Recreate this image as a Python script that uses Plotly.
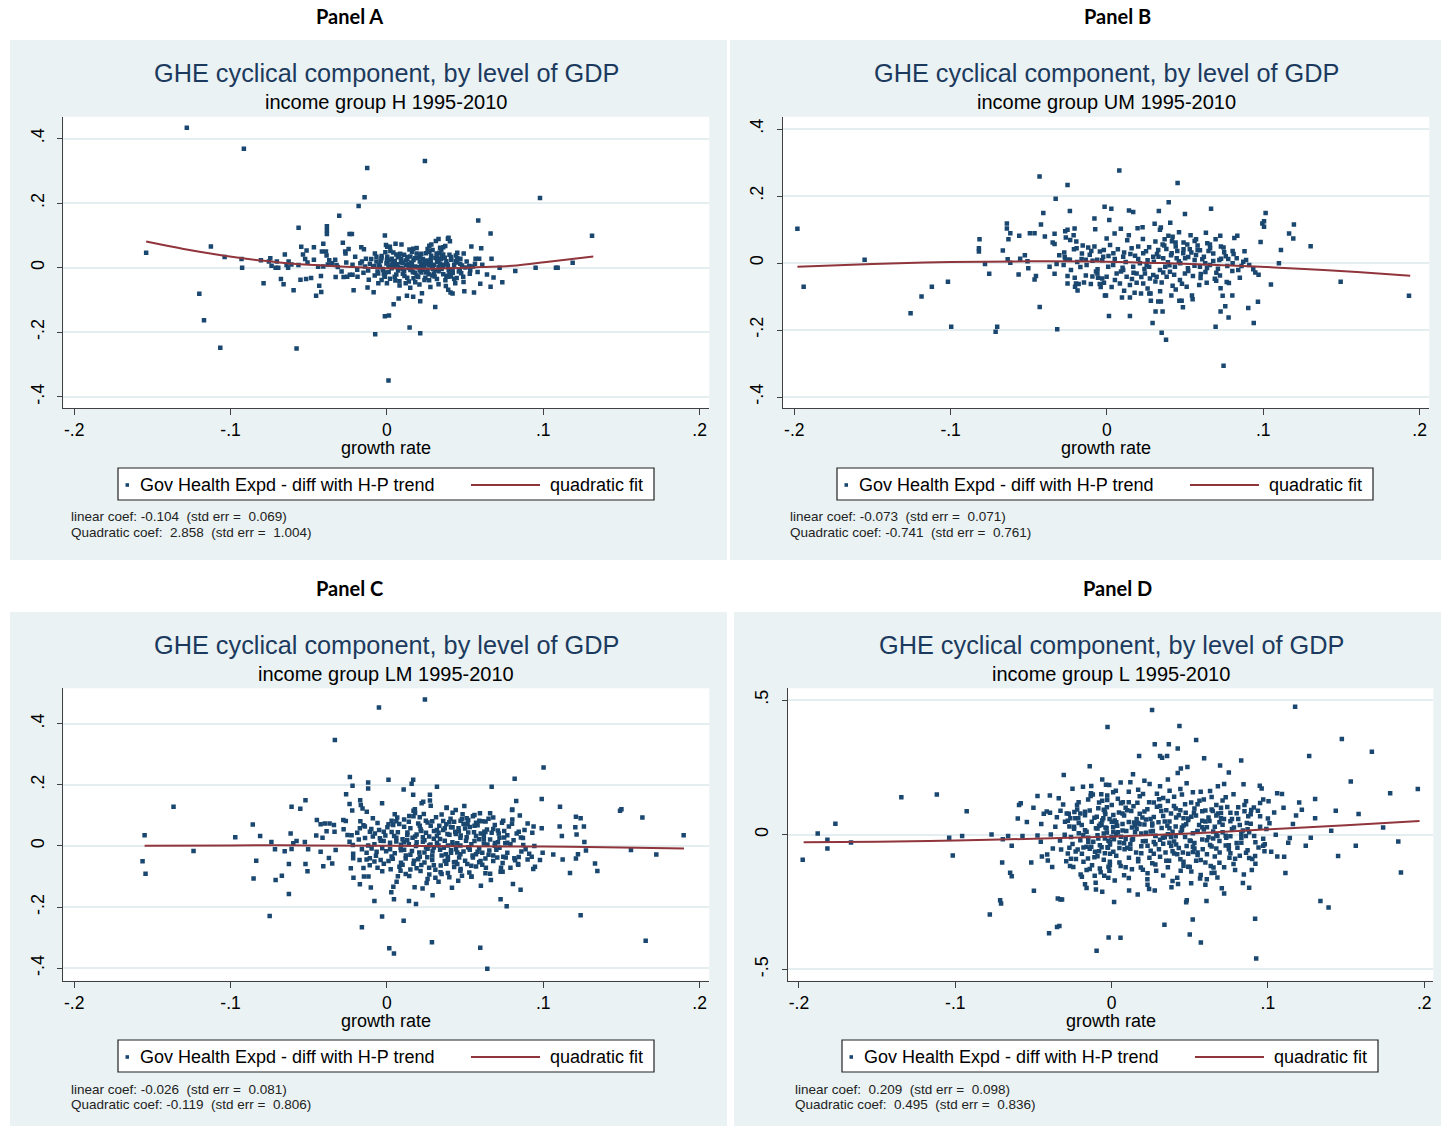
import plotly.graph_objects as go

W, H = 1441, 1126
def PX(x): return x / W
def PY(y): return 1 - y / H

NAVY = "#1a476f"
MAROON = "#90353b"
BG = "#eaf2f3"
GRID = "#e4edf0"
AXIS = "#404040"
FONT = "Liberation Sans, Arial, sans-serif"

# ---------------- data (growth rate, GHE cyclical component) ----------------
panel_a_points = [
    (-0.128,0.433),(-0.0915,0.368),(-0.0126,0.309),(-0.0143,0.218),(-0.0181,0.191),(-0.0305,0.161),
    (-0.0565,0.124),(-0.0384,0.128),(-0.0384,0.116),(-0.0384,0.104),(-0.0239,0.104),(-0.0224,0.104),
    (-0.154,0.046),(-0.1126,0.066),(-0.1038,0.033),(-0.093,0.027),(-0.0926,0.0),(-0.120,-0.081),
    (-0.117,-0.163),(-0.1066,-0.248),(-0.0578,-0.25),(0.001,-0.349),(-0.0075,-0.206),(-0.0013,-0.15),
    (0.0013,-0.148),(-0.0789,-0.048),(-0.0678,-0.035),(-0.0661,-0.051),(-0.0597,-0.070),(-0.0553,-0.037),
    (-0.0517,-0.035),(-0.0485,-0.032),(-0.0453,-0.087),(-0.042,-0.075),(-0.0433,-0.056),(-0.0422,-0.026),
    (-0.0328,-0.029),(-0.0277,-0.029),(-0.0213,-0.07),(-0.0124,-0.061),(-0.0085,-0.076),
    (-0.0806,0.023),(-0.0746,0.029),(-0.0755,0.019),(-0.0704,0.019),(-0.0738,0.006),(-0.0712,0.0),
    (-0.0695,0.0),(-0.0653,0.041),(-0.0629,0.019),(-0.0642,0.008),(-0.0632,0.0),(-0.0611,0.01),(-0.0566,0.008),
    (-0.0548,0.065),(-0.0537,0.041),(-0.0514,0.053),(-0.0523,0.027),(-0.0508,0.016),(-0.0467,0.063),
    (-0.0467,0.025),(-0.0416,0.05),(-0.039,0.05),(-0.0386,0.038),(-0.0407,0.074),(-0.0378,0.01),
    (-0.0407,0.004),(-0.0369,0.023),(-0.0331,0.025),(-0.0322,0.008),(-0.0314,0.002),(-0.0282,0.077),
    (-0.0267,0.05),(-0.0265,0.044),(-0.0245,0.058),(-0.0203,0.034),(-0.0164,0.063),(-0.016,0.019),
    (-0.0147,0.057),(-0.0134,0.028),(-0.0109,0.012),(-0.0088,0.003),(-0.0067,0.034),(-0.0013,0.1),(-0.0006,0.07),
    (-0.0237,-0.022),(-0.022,-0.022),(-0.0254,-0.028),(-0.0188,-0.028),(-0.015,-0.016),(-0.0116,-0.037),
    (-0.0078,-0.024),(-0.0055,-0.048),(-0.0034,-0.038),(0.0,-0.048),
    (0.0243,0.330),(0.0979,0.216),(0.0584,0.146),(0.0663,0.106),(0.1312,0.099),(0.0145,-0.185),
    (0.0213,-0.203),(0.0043,-0.113),(0.0075,-0.095),(0.0128,-0.087),(0.0168,-0.09),(0.0213,-0.104),
    (0.0224,-0.079),(0.0309,-0.122),(0.0377,-0.057),(0.0392,-0.068),(0.0407,-0.077),(0.042,-0.08),
    (0.0495,-0.073),(0.0557,-0.077),(0.0597,-0.05),(0.0663,-0.059),(0.0682,-0.03),(0.0738,-0.045),
    (0.0821,-0.01),(0.0951,0.0),(0.1081,0.0),(0.1092,0.0),(0.1188,0.015),(0.0721,0.0),(0.0567,0.028),
    (0.059,0.028),(0.0563,0.012),(0.0603,0.06),(0.054,0.066),(0.0491,0.044),(0.0669,0.028),
    (0.0271,0.068),(0.0284,0.072),(0.0313,0.083),(0.033,0.089),(0.036,0.063),(0.0373,0.067),
    (0.039,0.09),(0.0394,0.093),(0.0403,0.082),
    (0.0093,0.072),(0.0055,0.074),(0.0002,0.065),(0.0019,0.065),(-0.001,0.048),(0.0041,0.047),
    (0.0168,0.059),(0.016,0.049),(0.0292,0.055),(0.0271,0.052),(0.0318,0.044),(0.0348,0.055),
    (0.0441,0.038),(0.045,0.03),(0.0527,0.005),(0.0467,-0.007),(0.0488,-0.028),(0.0437,-0.048),(0.0446,-0.032),
    (-0.0034,0.036),(0.0004,0.017),(0.0031,0.028),(0.0065,0.011),(0.0091,0.026),(0.0129,0.033),
    (0.0155,0.016),(0.0193,0.031),(0.0219,0.012),(0.0257,0.022),(0.0283,0.037),(0.0321,0.018),
    (0.0347,0.027),(0.0385,0.011),(0.0411,0.025),
    (-0.0027,-0.004),(0.0011,-0.013),(0.0043,0.005),(0.0071,-0.009),(0.0102,-0.019),(0.0139,-0.001),
    (0.0166,-0.014),(0.0204,0.002),(0.0229,-0.006),(0.0267,-0.02),(0.0293,-0.003),(0.0331,-0.011),
    (0.0357,0.004),(0.0395,-0.008),(0.0421,-0.016),
    (-0.0016,-0.027),(0.0054,-0.04),(0.0112,-0.026),(0.0181,-0.045),(0.0246,-0.031),(0.0305,-0.027),
    (0.0374,-0.039),(0.0081,-0.055),(0.0149,-0.062),(0.0208,-0.052),(0.0278,-0.06),
    (0.0022,0.052),(0.0085,0.043),(0.0144,0.056),(0.0214,0.038),(0.0336,0.046),(0.0469,0.012),
    (0.0502,0.001),(0.0475,-0.017),(0.0533,-0.008),
    (-0.0067,0.019),(-0.0045,0.003),(-0.0024,-0.007),(-0.0003,0.013),(-0.0035,0.029),(-0.0056,-0.018),
    (-0.0013,-0.028),(-0.0077,0.044),(0.0002,0.034),
    (0.005,0.021),(0.012,0.008),(0.017,0.024),(0.024,0.006),(0.028,0.015),(0.033,0.002),(0.038,0.02),
    (0.003,-0.002),(0.009,0.0),(0.015,-0.007),(0.021,0.019),(0.027,0.007),(0.031,0.03),(0.036,-0.02),
    (0.043,0.009),(0.045,0.016),(0.04,0.04),(0.019,-0.024),(0.025,0.045),(0.011,0.04),(-0.005,0.008),
    (0.0,0.024),(0.014,0.012),(0.022,-0.015),(0.03,-0.018),(0.035,0.035),(0.041,-0.027),(0.007,0.032),
    (0.018,0.004),(0.026,-0.011),
    (-0.008,0.005),(-0.006,-0.012),(-0.004,0.021),(-0.002,-0.019),(0.001,0.004),(0.002,-0.034),(0.004,0.016),
    (0.006,-0.021),(0.008,0.038),(0.010,-0.003),(0.012,0.022),(0.013,-0.031),(0.015,0.035),(0.016,0.001),
    (0.018,-0.016),(0.019,0.044),(0.021,-0.009),(0.023,0.027),(0.024,-0.038),(0.026,0.013),(0.027,0.049),
    (0.029,-0.024),(0.030,0.009),(0.032,-0.035),(0.033,0.024),(0.035,-0.004),(0.036,0.041),(0.038,-0.025),
    (0.039,0.006),(0.041,0.033),(0.042,-0.005),(0.044,0.021),(0.046,-0.012),(0.048,0.007),(0.051,0.019),
    (0.053,-0.019),(0.055,0.004),(0.058,-0.013),(0.061,0.009),(0.064,-0.021),(-0.010,0.027),(-0.012,-0.009),
    (-0.014,0.004),(-0.017,0.014),(-0.019,-0.006),(-0.022,0.009),(-0.026,0.016),(-0.029,-0.012),(-0.035,0.014),
    (-0.044,0.003),(0.003,0.009),(0.005,-0.028),(0.007,0.002),(0.009,0.017),(0.011,-0.011),(0.013,0.027),
    (0.014,-0.043),(0.016,0.011),(0.018,0.029),(0.020,-0.029),(0.022,0.043),(0.023,0.005),(0.025,-0.015),
    (0.028,0.025),(0.031,-0.008),(0.034,0.012),(0.037,0.031),(0.040,-0.016),(0.043,-0.035),(0.047,0.028),
    (0.002,0.024),(0.006,0.041),(0.010,0.015),(0.017,-0.033),(0.021,0.032),(0.024,0.017),(0.029,0.003),
    (0.032,0.036),(0.036,0.009),(0.039,-0.028),(-0.001,-0.015),(0.012,-0.048),(0.027,-0.039),(0.033,-0.051),
    (0.045,0.046),(0.049,-0.044),(0.019,0.061),(0.026,0.058),(0.034,0.062),(0.008,-0.042),
]
panel_a_fit_x = [-0.154,-0.13,-0.105,-0.08,-0.06,-0.03,0.0,0.03,0.06,0.083,0.102,0.132]
panel_a_fit_y = [0.081,0.058,0.038,0.022,0.012,0.004,-0.002,-0.003,0.002,0.007,0.018,0.035]

panel_b_points = [
    (-0.198,0.102),(-0.194,-0.071),(-0.155,0.010),(-0.1256,-0.150),(-0.1186,-0.100),(-0.112,-0.071),
    (-0.1017,-0.056),(-0.0996,-0.190),(-0.0712,-0.205),(-0.0702,-0.190),(-0.0815,0.071),(-0.0819,0.044),
    (-0.0819,0.034),(-0.078,-0.003),(-0.0753,-0.032),(-0.064,0.118),(-0.064,0.103),(-0.0618,0.089),
    (-0.063,0.071),(-0.0666,0.037),(-0.0635,0.011),(-0.0618,0.001),(-0.0565,-0.034),(-0.0561,0.081),
    (-0.0555,0.013),(-0.0525,0.023),(-0.0508,0.005),(-0.0503,-0.016),(-0.0493,0.089),(-0.0463,0.089),
    (-0.0454,-0.039),(-0.0463,-0.049),(-0.043,-0.131),(-0.0431,0.258),(-0.0407,0.149),(-0.0422,0.115),
    (-0.0397,0.079),(-0.0367,-0.011),(-0.0328,0.192),(-0.0347,0.061),(-0.0335,0.057),(-0.0335,0.087),
    (-0.0335,-0.032),(-0.0322,-0.003),(-0.0318,-0.198),(-0.0305,0.023),(-0.0277,-0.006),(-0.0273,0.031),
    (-0.0265,0.010),(-0.0248,0.010),(-0.0237,0.010),(-0.0252,0.233),(-0.0237,0.155),(-0.0267,0.095),
    (-0.0252,0.099),(-0.0263,0.076),(-0.0235,0.069),(-0.0207,0.103),(-0.0213,0.083),(-0.0196,0.064),
    (-0.0211,0.041),(-0.0194,0.044),
    (-0.0252,-0.039),(-0.0252,-0.061),(-0.0206,-0.044),(-0.0204,-0.071),(-0.0188,-0.082),(-0.0198,-0.061),
    (-0.0181,-0.063),(-0.0147,-0.058),(-0.0135,-0.037),(-0.0103,-0.063),(-0.0093,-0.040),(-0.0061,-0.031),
    (-0.0057,-0.044),(-0.0046,-0.063),(-0.004,-0.072),(-0.003,-0.046),(-0.0019,-0.059),(-0.0013,-0.097),
    (-0.0155,0.052),(-0.012,0.046),(-0.008,0.049),(-0.0162,0.012),(-0.0135,0.010),(-0.0092,0.007),
    (-0.0062,0.010),(-0.0045,0.034),(-0.002,0.039),(-0.0015,0.168),(0.0015,0.128),(-0.008,0.133),(-0.0075,0.101),
    (0.0079,0.276),(0.0452,0.239),(0.0395,0.181),(0.0028,0.162),(0.0141,0.157),(0.0168,0.152),
    (0.0332,0.155),(0.0499,0.146),(0.0666,0.162),(0.0405,0.120),(0.0305,0.117),(0.0345,0.106),
    (0.0339,0.099),(0.0228,0.107),(0.0196,0.104),(0.0089,0.102),(0.0049,0.088),(-0.0002,0.073),
    (0.1015,0.149),(0.1005,0.125),(0.0994,0.118),(0.1005,0.108),(0.0983,0.063),(0.1196,0.115),
    (0.1165,0.088),(0.1192,0.073),(0.1303,0.050),(0.1113,0.039),(0.11,-0.001),(0.1049,-0.064),
    (0.1495,-0.056),(0.1932,-0.098),(0.0966,-0.116),(0.0904,-0.134),(0.0939,-0.179),(0.0746,-0.307),
    (0.0695,-0.190),(0.0727,-0.145),(0.0757,-0.129),(0.0778,-0.163),(0.074,-0.098),(0.0727,-0.075),
    (0.0802,-0.097),(0.0802,-0.024),(0.0013,-0.158),(0.0147,-0.158),(0.0292,-0.179),(0.035,-0.208),
    (0.0378,-0.229),(0.0311,-0.145),(0.0356,-0.145),(0.0328,-0.115),(0.0345,-0.115),(0.0281,-0.113),
    (0.0463,-0.113),(0.0478,-0.113),(0.0486,-0.132),(0.0412,-0.097),(0.0544,-0.097),(0.0548,-0.108),
    (0.0218,-0.091),(0.0271,-0.091),(0.0279,-0.091),(0.0177,-0.089),(0.0147,-0.103),(0.0096,-0.103),
    (-0.0006,-0.097),(0.0638,-0.059),(0.0599,-0.045),(0.0699,-0.053),(0.0723,-0.037),(0.0766,-0.057),
    (0.0815,0.075),(0.0834,0.081),(0.0725,0.081),(0.0695,0.071),(0.0729,0.049),(0.0746,0.046),
    (0.0804,0.036),(0.0633,0.090),(0.0642,0.059),(0.0659,0.055),(0.0595,0.038),(0.058,0.039),
    (0.0561,0.066),(0.0535,0.083),(0.049,0.061),(0.0514,0.055),(0.0461,0.092),(0.0439,0.061),
    (0.0416,0.065),(0.0393,0.081),(0.0369,0.071),(0.0356,0.055),(0.0367,0.052),
    (0.0872,0.004),(0.0861,-0.009),(0.0936,-0.019),(0.0949,-0.028),(0.097,-0.035),(0.0804,-0.001),
    (0.0776,0.012),(0.0719,0.009),(0.0659,-0.006),(0.0629,-0.001),(0.0595,-0.011),(0.0561,0.009),
    (0.0518,-0.016),(0.0469,-0.001),(0.0435,-0.011),(0.0373,-0.011),(0.0339,-0.021),(0.0296,-0.036),
    (0.0275,-0.046),(0.0243,-0.031),(0.019,-0.031),(0.0126,-0.041),(0.0083,-0.061),(0.0051,-0.051),
    (0.0008,-0.011),(-0.0024,0.019),
    (0.0041,0.029),(0.0104,0.019),(0.0158,0.044),(0.02,0.049),(0.0232,0.029),(0.0296,0.019),
    (0.0328,0.039),(0.036,0.014),(0.0414,0.029),(0.0446,0.014),(0.0488,0.029),(0.0168,-0.011),
    (0.0211,-0.001),(0.0254,-0.006),(0.0104,-0.021),(0.0062,-0.031),(-0.0002,-0.041),(0.0147,-0.066),
    (0.0232,-0.061),(0.0318,-0.041),(0.0382,-0.041),(0.0403,-0.026),(0.0467,-0.051),(0.0499,-0.031),
    (0.005,0.012),(0.011,0.031),(0.018,0.022),(0.026,0.008),(0.032,0.027),(0.039,0.002),(0.045,0.036),
    (0.052,0.018),(0.057,0.024),(0.061,0.011),(0.068,0.028),(0.071,-0.017),(0.076,0.02),(0.083,0.014),
    (0.089,0.009),(0.009,-0.025),(0.016,-0.048),(0.024,-0.018),(0.035,-0.058),(0.042,-0.068),
    (0.055,-0.039),(0.063,-0.027),(0.069,-0.047),(0.078,-0.06),(0.085,-0.044),(-0.011,0.025),
    (-0.017,-0.012),(-0.006,-0.019),(0.002,0.054),(0.013,0.068),(0.027,0.047),(0.044,0.049),
    (0.053,0.041),(0.065,0.036),(0.075,0.032),
    (0.001,0.021),(0.004,-0.006),(0.007,0.041),(0.010,-0.014),(0.012,0.003),(0.015,0.027),(0.017,-0.029),
    (0.020,0.012),(0.022,-0.042),(0.025,0.035),(0.027,-0.011),(0.030,0.004),(0.031,-0.055),(0.033,0.019),
    (0.036,-0.028),(0.038,0.042),(0.040,-0.007),(0.041,0.023),(0.043,-0.035),(0.046,0.005),(0.048,-0.062),
    (0.050,0.014),(0.052,-0.024),(0.054,0.031),(0.056,-0.008),(0.058,0.052),(0.060,-0.033),(0.062,0.019),
    (0.064,-0.015),(0.066,0.044),(0.068,0.006),(0.070,-0.029),(0.073,0.013),(0.077,-0.009),(0.081,0.027),
    (0.084,-0.021),(0.088,0.035),(0.091,-0.006),(-0.003,0.008),(-0.007,-0.025),(-0.010,0.036),(-0.013,-0.006),
    (-0.016,0.028),(-0.019,0.003),(-0.023,-0.021),(-0.027,0.017),(0.003,-0.072),(0.011,-0.083),(0.019,-0.059),
    (0.026,-0.076),(0.034,-0.084),(0.044,-0.079),(0.051,-0.071),(0.059,-0.066),(0.014,0.083),(0.023,0.072),
    (0.031,0.064),(0.042,0.078),(0.049,0.041),(0.057,0.071),
]
panel_b_fit_x = [-0.198,-0.15,-0.1,-0.05,0.0,0.04,0.087,0.123,0.16,0.194]
panel_b_fit_y = [-0.011,-0.003,0.003,0.005,0.004,-0.001,-0.009,-0.017,-0.027,-0.038]

panel_c_points = [
    (-0.0051,0.453),(-0.0333,0.347),(-0.1365,0.128),(-0.155,0.035),(-0.1563,-0.050),(-0.1544,-0.091),
    (-0.1237,-0.016),(-0.097,0.029),(-0.0858,0.070),(-0.0811,0.033),(-0.0836,-0.048),(-0.0853,-0.106),
    (-0.075,-0.229),(-0.0739,0.013),(-0.0716,-0.011),(-0.0712,-0.111),(-0.0672,-0.097),(-0.0627,-0.059),
    (-0.0627,-0.157),(-0.0654,-0.017),(-0.061,-0.010),(-0.0599,0.009),(-0.0616,0.041),(-0.0578,0.016),
    (-0.0525,0.013),(-0.0504,-0.011),(-0.0521,-0.059),(-0.0508,-0.083),(-0.0554,0.122),(-0.061,0.128),
    (-0.0521,0.150),
    (-0.0452,0.034),(-0.0412,0.027),(-0.0407,-0.066),(-0.0424,-0.019),(-0.0448,0.085),(-0.0424,0.071),
    (-0.0397,0.074),(-0.0367,0.074),(-0.0339,0.069),(-0.0386,0.048),(-0.0335,0.047),(-0.0371,-0.039),
    (-0.035,-0.057),(-0.0328,-0.013),
    (-0.0237,0.226),(-0.022,0.197),(-0.0261,0.169),(-0.0239,0.137),(-0.0222,0.116),(-0.0171,0.150),
    (-0.0167,0.134),(-0.0156,0.123),(-0.0129,0.112),(-0.012,0.208),(-0.012,0.188),(-0.0031,0.140),
    (-0.0279,0.085),(-0.0263,0.082),(-0.0277,0.055),(-0.0252,0.036),(-0.0226,0.035),(-0.0239,0.014),
    (-0.0218,0.003),(-0.0216,-0.025),(-0.0175,-0.046),(-0.0216,-0.040),(-0.0231,-0.073),(-0.0214,-0.104),
    (-0.0173,-0.125),(-0.0147,-0.1),(-0.0118,-0.1),(-0.0103,-0.136),(-0.008,-0.18),(-0.0031,-0.231),
    (-0.016,-0.266),(0.0015,-0.335),
    (-0.0173,0.058),(-0.0141,0.064),(-0.0109,0.047),(-0.0077,0.041),(-0.0045,0.025),(-0.0098,-0.008),
    (-0.0066,-0.019),(-0.004,-0.046),(-0.0109,-0.04),
    (0.0243,0.479),(0.1002,0.257),(0.0817,0.220),(0.001,0.217),(0.0158,0.204),(0.0168,0.217),
    (0.032,0.194),(0.067,0.194),(0.0107,0.185),(0.0168,0.168),(0.0275,0.168),(0.0232,0.145),
    (0.0275,0.149),(0.0222,0.140),(0.099,0.154),(0.0827,0.147),(0.1107,0.128),(0.08,0.118),
    (0.0495,0.131),(0.0382,0.124),(0.0179,0.120),
    (0.1209,0.096),(0.1239,0.091),(0.126,0.064),(0.1205,0.061),(0.1213,0.038),(0.1263,0.013),
    (0.1273,-0.015),(0.1222,-0.027),(0.1209,-0.041),(0.1331,-0.057),(0.1346,-0.082),(0.1171,-0.088),
    (0.1124,-0.044),(0.1064,-0.028),(0.1119,0.033),(0.1105,0.064),
    (0.1491,0.115),(0.15,0.12),(0.1634,0.093),(0.1898,0.035),(0.1561,-0.013),(0.1723,-0.028),
    (0.1239,-0.227),(0.1655,-0.310),(0.0107,-0.245),(0.0045,-0.352),(0.0288,-0.315),
    (0.0597,-0.333),(0.0642,-0.402),(0.0727,-0.174),(0.0766,-0.197),(0.0806,-0.124),(0.0855,-0.143),
    (0.0601,-0.130),(0.0292,-0.161),(0.0186,-0.190),(0.0141,-0.180),(0.0045,-0.174),(0.0028,-0.151),
    (0.0727,-0.084),(0.0665,-0.111),(0.0541,-0.1),(0.0416,-0.137),(0.0456,-0.114),(0.0228,-0.139),
    (0.0254,-0.121),(0.0177,-0.135),(0.0062,-0.117),(0.0041,-0.133),
    (0.0872,0.003),(0.0887,-0.011),(0.0943,0.0),(0.0979,-0.046),(0.0996,-0.022),(0.0926,-0.035),
    (0.0947,-0.068),(0.0936,-0.075),(0.0843,-0.036),(0.0815,-0.040),(0.0838,-0.059),(0.0744,-0.035),
    (0.0757,0.009),(0.0691,0.010),(0.0715,0.041),(0.0744,0.083),(0.0736,0.076),(0.0802,0.087),
    (0.0802,0.119),(0.09,0.074),(0.0938,0.064),(0.099,0.058),(0.085,0.100),(0.0843,0.047),
    (0.0857,0.028),(0.0631,0.080),(0.0623,0.047),(0.0595,0.107),(0.0591,0.083),(0.0516,0.072),
    (0.051,0.091),(0.0471,0.083),(0.0458,0.058),(0.0437,0.047),(0.0399,0.078),(0.0382,0.126),
    (0.0003,0.061),(0.0046,0.033),(0.0079,0.072),(0.0131,0.044),(0.0164,0.027),(0.0215,0.055),
    (0.0249,0.083),(0.0301,0.049),(0.0335,0.066),(0.0387,0.039),(0.0419,0.012),(0.0472,0.034),
    (0.0506,0.017),(0.0557,0.045),(0.059,0.022),(0.0643,0.005),
    (-0.0005,-0.017),(0.0037,-0.042),(0.0088,-0.006),(0.0121,-0.031),(0.0173,-0.048),(0.0207,-0.021),
    (0.0258,-0.037),(0.0292,-0.016),(0.0344,-0.064),(0.0377,-0.027),(0.0429,-0.053),(0.0462,-0.038),
    (0.0514,-0.059),(0.0548,-0.031),(0.0599,-0.049),(0.0633,-0.071),
    (0.0024,-0.076),(0.0087,-0.081),(0.0143,-0.098),(0.0215,-0.082),(0.0271,-0.093),(0.0343,-0.086),
    (0.0399,-0.102),(0.0471,-0.075),(0.0527,-0.087),
    (0.0066,0.093),(0.0143,0.098),(0.0236,0.105),(0.0314,0.094),(0.0407,0.089),(0.0484,0.104),
    (-0.0021,0.016),(0.0108,0.012),(0.0186,0.0),(0.0279,0.005),(0.0364,-0.006),(0.0442,-0.011),
    (0.0527,-0.006),(0.0655,-0.015),(0.0706,-0.038),
    (0.006,0.015),(0.011,-0.012),(0.019,0.038),(0.024,0.019),(0.03,-0.005),(0.034,0.023),(0.041,0.061),
    (0.045,-0.021),(0.049,0.072),(0.054,0.006),(0.057,-0.067),(0.062,0.033),(0.068,0.056),(0.072,-0.006),
    (0.077,0.035),(0.081,0.019),(0.088,0.052),(0.091,-0.025),(0.003,0.083),(0.009,-0.055),(0.014,0.079),
    (0.022,-0.062),(0.027,0.031),(0.036,0.052),(0.039,-0.045),(0.047,0.002),(0.052,0.085),(0.058,0.068),
    (0.061,-0.022),(0.066,-0.091),(-0.008,0.006),(-0.013,-0.022),(-0.018,0.021),(-0.006,0.075),
    (-0.002,-0.058),(0.017,0.115),(0.028,0.132),(0.033,-0.117),(0.044,0.118),(0.055,0.097),
    (-0.019,0.043),(-0.016,-0.011),(-0.014,0.026),(-0.011,-0.063),(-0.009,0.091),(-0.007,-0.032),(-0.005,0.052),
    (-0.003,-0.007),(-0.001,0.034),(0.001,-0.049),(0.002,0.011),(0.004,0.069),(0.005,-0.024),(0.007,0.045),
    (0.008,-0.068),(0.010,0.022),(0.011,0.087),(0.012,-0.041),(0.014,0.006),(0.015,0.058),(0.016,-0.016),
    (0.018,0.031),(0.019,-0.073),(0.020,0.074),(0.021,-0.035),(0.023,0.014),(0.024,-0.054),(0.025,0.043),
    (0.026,-0.009),(0.028,0.066),(0.029,-0.046),(0.030,0.024),(0.031,-0.078),(0.032,0.052),(0.033,0.002),
    (0.035,-0.031),(0.036,0.082),(0.037,0.017),(0.038,-0.058),(0.040,0.037),(0.041,-0.014),(0.042,0.061),
    (0.043,-0.069),(0.045,0.009),(0.046,0.048),(0.047,-0.027),(0.048,0.088),(0.050,-0.048),(0.051,0.029),
    (0.052,-0.004),(0.053,0.062),(0.055,-0.038),(0.056,0.016),(0.057,0.076),(0.058,-0.019),(0.060,0.041),
    (0.061,-0.061),(0.062,0.008),(0.064,0.054),(0.065,-0.029),(0.066,0.021),(0.068,-0.049),(0.069,0.069),
    (0.070,-0.012),(0.072,0.027),(0.073,-0.071),(0.075,0.049),(0.077,-0.022),(0.079,0.006),(0.082,-0.047),
    (-0.012,0.002),(-0.004,0.017),(0.003,-0.034),(0.006,0.027),(0.009,-0.014),(0.013,0.036),(0.017,-0.058),
    (0.019,0.012),(0.022,0.049),(0.024,-0.021),(0.027,0.002),(0.030,-0.063),(0.032,0.033),(0.034,-0.012),
    (0.037,0.058),(0.039,-0.036),(0.042,0.004),(0.044,-0.052),(0.047,0.027),(0.049,-0.018),(0.052,0.044),
    (0.054,-0.065),(0.057,0.033),(0.059,-0.008),(0.063,-0.041),(0.067,0.043),(0.071,0.012),(0.074,-0.056),
    (0.078,0.064),(0.086,-0.018),(0.005,0.104),(0.012,-0.092),(0.021,0.094),(0.026,-0.108),(0.035,0.103),
    (0.039,-0.088),(0.048,-0.097),(0.056,0.101),(0.063,-0.089),(0.068,0.093),(-0.008,-0.051),(-0.015,0.068),
    (-0.003,-0.083),(0.001,0.071),(0.015,-0.077),(0.029,0.081),(0.043,0.079),(0.061,0.081),(0.076,-0.038),
    (0.083,0.041),
    (-0.017,0.081),(-0.013,-0.044),(-0.010,0.056),(-0.006,-0.071),(-0.002,0.047),(0.002,-0.011),(0.006,0.081),
    (0.010,-0.061),(0.013,0.019),(0.017,0.097),(0.020,-0.043),(0.023,0.029),(0.026,0.077),(0.029,-0.031),
    (0.032,0.011),(0.035,-0.092),(0.038,0.071),(0.041,-0.022),(0.044,0.039),(0.047,-0.081),(0.050,0.057),
    (0.053,-0.012),(0.056,0.066),(0.059,-0.053),(0.062,0.022),(0.065,0.089),(0.068,-0.031),(0.071,0.051),
    (0.074,-0.084),(0.077,0.011),(0.080,0.073),(0.084,-0.061),(0.087,0.026),(0.090,-0.044),(0.093,0.043),
    (0.003,0.046),(0.009,0.004),(0.015,-0.029),(0.021,0.066),(0.027,-0.071),(0.033,0.043),(0.039,0.002),
    (0.045,-0.059),(0.051,0.072),(0.057,-0.027),(0.063,0.046),(0.069,0.001),(0.075,0.028),(-0.009,0.031),
    (-0.015,-0.072),(0.007,-0.099),(0.018,0.108),(0.031,-0.104),(0.042,0.109),(0.054,-0.101),(0.066,0.107),
    (0.079,-0.071),(0.011,0.063),(0.025,-0.005),(0.037,-0.049),
]
panel_c_fit_x = [-0.155,-0.1,-0.05,0.0,0.05,0.1,0.15,0.19]
panel_c_fit_y = [0.001,0.002,0.002,0.001,-0.001,-0.002,-0.005,-0.008]

panel_d_points = [
    (-0.1976,-0.093),(-0.188,0.005),(-0.1818,-0.019),(-0.1818,-0.051),(-0.1767,0.041),(-0.1667,-0.029),
    (-0.1345,0.139),(-0.1118,0.149),(-0.1039,-0.011),(-0.1016,-0.077),(-0.0956,-0.005),(-0.0927,0.087),
    (-0.0779,-0.296),(-0.0768,0.001),(-0.070,-0.103),(-0.0713,-0.243),(-0.0707,-0.255),(-0.0696,-0.017),
    (-0.0662,-0.005),(-0.0639,-0.041),(-0.0649,-0.141),(-0.0639,-0.154),(-0.0592,0.110),(-0.0581,0.117),
    (-0.057,-0.005),(-0.0542,0.047),(-0.0514,-0.103),(-0.0497,-0.208),(-0.0474,0.144),(-0.0395,0.146),
    (-0.0338,0.135),(-0.0306,0.222),
    (-0.0474,-0.003),(-0.0453,-0.026),(-0.0446,-0.081),(-0.0412,-0.073),(-0.0408,-0.096),(-0.0389,0.001),
    (-0.0376,-0.051),(-0.0344,-0.237),(-0.0334,-0.339),(-0.0327,-0.240),(-0.0317,-0.240),(-0.04,-0.366),
    (-0.0349,-0.342),
    (-0.0434,0.078),(-0.0415,0.086),(-0.0394,0.082),(-0.0327,0.089),(-0.0298,0.048),(-0.0287,0.079),
    (-0.0274,0.078),(-0.0264,0.061),(-0.0238,0.084),(-0.0232,0.061),(-0.0211,0.121),(-0.0221,0.110),
    (-0.0183,0.178),(-0.014,0.254),(-0.0134,0.144),(-0.0132,0.154),(-0.0066,0.150),(-0.0036,0.186),
    (-0.0028,0.129),(-0.006,0.126),(-0.0026,0.400),(-0.0015,0.185),
    (-0.0323,-0.055),(-0.027,-0.048),(-0.0266,-0.116),(-0.0245,-0.120),(-0.0228,-0.090),(-0.0217,-0.055),
    (-0.0198,-0.148),(-0.017,-0.184),(-0.016,-0.045),(-0.0151,-0.088),(-0.014,-0.127),(-0.0125,-0.113),
    (-0.0108,-0.152),(-0.0102,-0.178),(-0.01,-0.203),(-0.006,-0.212),(-0.0047,-0.152),(-0.0021,-0.160),
    (-0.0011,-0.100),(-0.0026,-0.046),(-0.0064,-0.046),(-0.0085,-0.014),(-0.0117,-0.026),
    (-0.0096,-0.431),(-0.0019,-0.381),
    (-0.0191,0.036),(-0.016,0.011),(-0.0127,0.048),(-0.0095,0.067),(-0.0064,0.036),(-0.0032,0.024),
    (0.0001,0.048),(0.0011,0.011),(-0.0043,-0.014),(-0.0011,-0.026),(-0.0075,-0.039),(-0.0106,-0.063),
    (-0.0043,-0.069),(0.0011,-0.063),(-0.0149,-0.026),(-0.0181,-0.001),(-0.0085,0.098),(-0.0043,0.085),
    (0.0001,0.110),(0.0011,0.073),(-0.0053,0.061),(-0.017,0.085),(-0.0213,0.061),(-0.0011,-0.113),(-0.0075,-0.125),
    (0.1174,0.475),(0.0259,0.463),(0.0434,0.404),(0.1473,0.355),(0.1665,0.308),(0.1264,0.292),
    (0.0541,0.352),(0.0276,0.336),(0.0366,0.336),(0.0423,0.320),(0.0176,0.292),(0.031,0.292),
    (0.0323,0.286),(0.0355,0.292),(0.0592,0.284),(0.0829,0.276),(0.0694,0.257),(0.075,0.231),
    (0.0443,0.246),(0.0485,0.251),(0.0423,0.229),
    (0.153,0.198),(0.1782,0.154),(0.1959,0.170),(0.1302,0.133),(0.1217,0.093),(0.1434,0.089),
    (0.158,0.077),(0.1302,0.061),(0.1737,0.027),(0.1405,0.015),
    (0.0948,0.182),(0.0844,0.187),(0.1059,0.154),(0.097,0.131),(0.1004,0.124),(0.0936,0.089),
    (0.0893,0.092),(0.0874,0.069),(0.0865,0.044),
    (0.1834,-0.025),(0.1851,-0.14),(0.1562,-0.041),(0.1449,-0.079),(0.1274,-0.011),(0.1242,-0.041),
    (0.1112,-0.142),(0.1104,-0.082),(0.1021,-0.063),(0.0978,-0.061),(0.097,-0.041),(0.0912,-0.005),(0.0859,-0.005),
    (0.1336,-0.246),(0.1388,-0.270),(0.0918,-0.312),(0.0925,-0.459),(0.088,-0.197),(0.0918,-0.079),
    (0.0846,-0.148),(0.0897,-0.131),
    (0.0705,-0.199),(0.072,-0.218),(0.0607,-0.246),(0.0481,-0.243),(0.0477,-0.251),(0.0519,-0.315),
    (0.05,-0.370),(0.0571,-0.400),(0.0338,-0.334),(0.0016,-0.250),(0.0057,-0.382),
    (0.0167,-0.222),(0.0112,-0.207),(0.0276,-0.207),(0.0383,-0.195),(0.0425,-0.183),(0.0509,-0.180),
    (0.0566,-0.162),(0.0609,-0.165),(0.0677,-0.159),(0.0658,-0.141),(0.0652,-0.122),
    (-0.0028,0.146),(0.0027,0.163),(0.0072,0.121),(0.0047,0.083),(-0.0013,0.058),(-0.0039,0.027),
    (0.0015,-0.017),(-0.0023,-0.048),(0.0051,-0.029),(0.0094,0.014),(0.0143,0.045),(0.0126,0.088),
    (0.0165,0.119),(0.0201,0.151),(0.0229,0.095),(0.0179,0.039),(0.0249,0.058),(0.0264,0.014),
    (0.0218,-0.023),(0.0157,-0.066),(0.0111,-0.085),(0.0058,-0.116),(-0.0014,-0.134),(0.0187,-0.122),
    (0.0242,-0.085),(0.0303,-0.054),(0.0328,-0.011),(0.0357,0.033),(0.0318,0.088),(0.0304,0.132),
    (0.0371,0.163),(0.0399,0.107),(0.0413,0.064),(0.0442,0.008),(0.0381,-0.042),(0.0368,-0.097),
    (0.0285,-0.134),(0.0229,-0.165),(0.0456,-0.066),(0.0506,-0.023),(0.0477,0.039),(0.0527,0.082),
    (0.0562,0.126),(0.0549,0.014),(0.0583,-0.054),(0.0541,-0.097),(0.0442,-0.134),(0.0626,0.051),
    (0.0677,-0.005),(0.0647,0.088),(0.0719,0.058),(0.0691,-0.066),(0.0733,-0.011),(0.0783,0.027),
    (0.0754,-0.085),(0.0805,-0.048),(0.0634,-0.116),(0.0036,0.033),(0.0083,-0.054),(0.0137,-0.017),
    (0.0197,0.064),(0.0281,-0.005),(0.0345,-0.066),(0.0413,-0.036),(0.0474,0.082),(0.0509,0.12),
    (0.0243,0.188),(0.0058,0.194),(0.0137,0.225),
    (0.007,0.04),(0.012,-0.035),(0.019,0.005),(0.026,0.042),(0.033,0.07),(0.038,-0.008),(0.045,0.027),
    (0.052,-0.045),(0.058,0.052),(0.061,-0.02),(0.009,0.1),(0.017,-0.09),(0.028,-0.11),(0.036,0.125),
    (0.04,-0.07),(0.049,0.06),(0.055,-0.075),(0.066,0.03),(0.07,0.1),(0.076,0.05),(0.083,-0.03),
    (0.087,0.02),(-0.005,0.005),(-0.009,-0.08),(-0.014,0.09),(-0.02,-0.02),(-0.024,0.03),(0.002,-0.17),
    (0.021,0.2),(0.031,0.18),(0.044,0.17),(0.057,0.16),(0.064,0.14),(0.008,-0.15),(0.02,-0.13),
    (0.042,-0.16),(0.05,-0.12),(0.06,0.09),(0.073,-0.04),(0.08,0.08),(0.011,0.16),(0.027,0.12),
    (0.037,-0.03),(0.046,-0.1),(0.067,0.11),(0.095,0.03),(0.1,0.06),(0.105,0.0),(0.11,0.1),
    (-0.03,0.0),(-0.036,0.03),(-0.045,0.04),(-0.05,0.1),(-0.06,0.06),(-0.038,-0.12),(-0.028,-0.07),
    (-0.018,-0.1),(-0.008,0.12),(0.085,0.11),(0.09,-0.09),(0.078,0.15),(0.068,0.18),(0.116,0.04),
    (0.12,0.12),(0.113,-0.03),
    (-0.028,0.052),(-0.025,-0.034),(-0.022,0.094),(-0.019,-0.071),(-0.017,0.017),(-0.015,0.131),(-0.013,-0.045),
    (-0.011,0.063),(-0.009,-0.002),(-0.007,0.041),(-0.005,-0.093),(-0.003,0.102),(-0.001,-0.036),(0.001,0.029),
    (0.003,-0.078),(0.004,0.134),(0.006,-0.007),(0.008,0.071),(0.009,-0.121),(0.011,0.047),(0.012,-0.052),
    (0.014,0.106),(0.015,0.009),(0.017,-0.098),(0.018,0.078),(0.020,-0.024),(0.021,0.038),(0.023,-0.143),
    (0.024,0.121),(0.025,-0.059),(0.027,0.066),(0.028,-0.004),(0.029,0.152),(0.031,-0.082),(0.032,0.025),
    (0.033,-0.033),(0.035,0.091),(0.036,-0.121),(0.037,0.049),(0.039,-0.061),(0.040,0.141),(0.041,-0.006),
    (0.043,0.072),(0.044,-0.091),(0.045,0.018),(0.047,0.113),(0.048,-0.042),(0.049,0.055),(0.051,-0.136),
    (0.052,0.006),(0.053,0.097),(0.055,-0.066),(0.056,0.036),(0.058,-0.018),(0.059,0.131),(0.060,-0.103),
    (0.062,0.064),(0.063,-0.038),(0.065,0.012),(0.066,-0.081),(0.068,0.079),(0.069,-0.023),(0.071,0.037),
    (0.072,-0.121),(0.074,0.103),(0.075,-0.054),(0.077,0.021),(0.079,-0.089),(0.081,0.058),(0.083,-0.011),
    (0.085,0.087),(0.087,-0.058),(0.089,0.041),(0.092,-0.028),(0.095,0.069),(-0.026,-0.089),(-0.021,0.006),
    (-0.016,-0.131),(-0.012,0.149),(-0.008,-0.061),(-0.004,0.077),(0.000,-0.007),(0.002,0.053),(0.005,-0.049),
    (0.007,0.016),(0.010,0.091),(0.013,-0.019),(0.016,0.058),(0.019,-0.069),(0.022,0.007),(0.026,-0.106),
    (0.030,0.046),(0.034,-0.009),(0.038,0.079),(0.042,-0.072),(0.046,0.034),(0.050,-0.021),(0.054,0.071),
    (0.057,-0.094),(0.061,0.028),(0.064,0.094),(0.067,-0.051),(0.070,0.061),(0.073,-0.004),(0.076,0.082),
    (0.080,-0.031),(0.084,0.016),(0.088,-0.086),(0.091,0.101),(0.097,-0.015),(-0.024,0.022),(-0.018,-0.047),
    (-0.010,0.024),(-0.002,-0.119),(0.006,0.117),(0.011,-0.161),(0.018,0.143),(0.026,0.034),(0.033,-0.151),
    (0.039,0.011),(0.046,-0.115),(0.052,0.158),(0.058,0.087),(0.064,-0.142),(0.071,0.127),(0.078,-0.109),
    (0.086,0.124),(0.094,-0.047),(0.099,0.021),(0.104,0.083),(0.003,0.004),(0.013,0.027),(0.023,-0.041),
    (0.031,0.107),(0.041,0.031),(0.049,-0.071),(0.055,0.012),(0.062,-0.009),(0.069,0.046),(0.076,-0.069),
    (-0.006,0.053),(0.008,-0.032),(0.017,0.044),(0.027,-0.027),(0.036,0.002),(0.044,0.091),(0.053,-0.051),
    (0.060,0.049),(0.067,0.001),(0.082,0.036),
    (-0.035,0.065),(-0.033,-0.021),(-0.031,0.112),(-0.029,-0.098),(-0.027,0.031),(-0.025,0.171),(-0.023,-0.062),
    (-0.021,0.044),(-0.019,-0.156),(-0.017,0.072),(-0.015,-0.011),(-0.013,0.181),(-0.011,-0.084),(-0.009,0.023),
    (-0.007,-0.139),(-0.005,0.093),(-0.003,0.008),(-0.001,-0.071),(0.001,0.158),(0.003,0.046),(0.005,-0.103),
    (0.007,0.079),(0.009,-0.016),(0.011,0.121),(0.013,-0.128),(0.015,0.034),(0.017,0.167),(0.019,-0.043),
    (0.021,0.086),(0.023,-0.186),(0.025,0.012),(0.027,-0.071),(0.029,0.104),(0.031,-0.019),(0.033,0.136),
    (0.035,-0.097),(0.037,0.024),(0.039,-0.172),(0.041,0.097),(0.043,-0.049),(0.045,0.149),(0.047,-0.008),
    (0.049,-0.119),(0.051,0.067),(0.053,-0.031),(0.055,0.113),(0.057,-0.149),(0.059,0.019),(0.061,-0.072),
    (0.063,0.162),(0.065,-0.014),(0.067,0.071),(0.069,-0.104),(0.071,0.009),(0.073,0.139),(0.075,-0.039),
    (0.077,0.058),(0.079,-0.131),(0.081,0.102),(0.083,0.004),(0.086,-0.067),(0.089,0.076),(0.092,-0.108),
    (0.095,0.118),(0.098,-0.035),(0.101,0.043),(0.106,-0.081),(0.109,0.151),(0.114,-0.012),(0.118,0.071),
    (0.004,0.009),(0.010,-0.048),(0.016,0.021),(0.022,0.057),(0.028,-0.035),(0.034,0.049),(0.040,-0.025),
    (0.046,0.061),(0.052,-0.064),(0.058,0.028),(0.064,-0.044),(0.070,0.081),(0.076,-0.006),(0.082,-0.078),
    (0.088,0.009),(-0.002,-0.022),(-0.008,0.033),(-0.014,-0.052),(-0.020,0.079),(-0.026,-0.008),(0.012,0.195),
    (0.024,-0.201),(0.036,0.205),(0.048,0.191),(0.060,-0.186),(0.072,0.188),(0.084,-0.179),(0.096,0.172),
    (-0.006,0.205),(-0.016,-0.198),
]
panel_d_fit_x = [-0.197,-0.15,-0.1,-0.05,0.0,0.05,0.1,0.15,0.197]
panel_d_fit_y = [-0.028,-0.026,-0.021,-0.015,-0.007,0.005,0.020,0.035,0.051]

x_tick_vals = [-0.2, -0.1, 0, 0.1, 0.2]
x_tick_text = ["-.2", "-.1", "0", ".1", ".2"]
y_tick_vals_abc = [-0.4, -0.2, 0, 0.2, 0.4]
y_tick_text_abc = ["-.4", "-.2", "0", ".2", ".4"]
y_tick_vals_d = [-0.5, 0, 0.5]
y_tick_text_d = ["-.5", "0", ".5"]

title_text = "GHE cyclical component, by level of GDP"
series_label = "Gov Health Expd - diff with H-P trend"
fit_label = "quadratic fit"
panel_labels = ["Panel A", "Panel B", "Panel C", "Panel D"]
subtitles = ["income group H 1995-2010", "income group UM 1995-2010",
             "income group LM 1995-2010", "income group L 1995-2010"]
notes = [
    ("linear coef: -0.104  (std err =  0.069)", "Quadratic coef:  2.858  (std err =  1.004)"),
    ("linear coef: -0.073  (std err =  0.071)", "Quadratic coef: -0.741  (std err =  0.761)"),
    ("linear coef: -0.026  (std err =  0.081)", "Quadratic coef: -0.119  (std err =  0.806)"),
    ("linear coef:  0.209  (std err =  0.098)", "Quadratic coef:  0.495  (std err =  0.836)"),
]

# ---------------- layout geometry (pixels) ----------------
panels = [
    dict(pts=panel_a_points, fx=panel_a_fit_x, fy=panel_a_fit_y,
         plot=(63.3, 709.3, 116.7, 408.3), xr=(-0.2070, 0.2062), yr=(-0.4353, 0.4675),
         yt=(y_tick_vals_abc, y_tick_text_abc), box=(10, 727, 40, 560), off=0,
         label_x=349, title_x=386, leg_x=118, note_x=69),
    dict(pts=panel_b_points, fx=panel_b_fit_x, fy=panel_b_fit_y,
         plot=(782.7, 1429.3, 116.7, 408.3), xr=(-0.2074, 0.2062), yr=(-0.4337, 0.4367),
         yt=(y_tick_vals_abc, y_tick_text_abc), box=(730, 1441, 40, 560), off=0,
         label_x=1117, title_x=1106, leg_x=837, note_x=788),
    dict(pts=panel_c_points, fx=panel_c_fit_x, fy=panel_c_fit_y,
         plot=(63.3, 709.3, 688.3, 980.7), xr=(-0.2070, 0.2062), yr=(-0.4408, 0.5160),
         yt=(y_tick_vals_abc, y_tick_text_abc), box=(10, 727, 612, 1126), off=572,
         label_x=349, title_x=386, leg_x=118, note_x=69),
    dict(pts=panel_d_points, fx=panel_d_fit_x, fy=panel_d_fit_y,
         plot=(787.7, 1433.3, 688.3, 980.7), xr=(-0.2072, 0.2058), yr=(-0.5418, 0.5436),
         yt=(y_tick_vals_d, y_tick_text_d), box=(734, 1441, 612, 1126), off=572,
         label_x=1117, title_x=1111, leg_x=842, note_x=793),
]

fig = go.Figure()
shapes, annotations = [], []
layout = dict(width=W, height=H, margin=dict(l=0, r=0, t=0, b=0), autosize=False,
              paper_bgcolor="white", plot_bgcolor="white", showlegend=False,
              font=dict(family=FONT, color="black"))

for i, p in enumerate(panels):
    n = i + 1
    xa = "x" if n == 1 else f"x{n}"
    ya = "y" if n == 1 else f"y{n}"
    l, r, t, b = p["plot"]
    bl, br, bt, bb = p["box"]
    off = p["off"]
    shapes.append(dict(type="rect", xref="paper", yref="paper", x0=PX(bl), x1=PX(br),
                       y0=PY(bb), y1=PY(bt), fillcolor=BG, line=dict(width=0), layer="below"))
    shapes.append(dict(type="rect", xref="paper", yref="paper", x0=PX(l), x1=PX(r),
                       y0=PY(b), y1=PY(t), fillcolor="white", line=dict(width=0), layer="below"))

    xs = [q[0] for q in p["pts"]]
    ys = [q[1] for q in p["pts"]]
    fig.add_trace(go.Scatter(x=xs, y=ys, mode="markers", xaxis=xa, yaxis=ya,
                             marker=dict(symbol="square", size=4.5, color=NAVY, line=dict(width=0)),
                             hoverinfo="skip"))
    fig.add_trace(go.Scatter(x=p["fx"], y=p["fy"], mode="lines", xaxis=xa, yaxis=ya,
                             line=dict(color=MAROON, width=2, shape="spline"), hoverinfo="skip"))

    axis_key_x = "xaxis" if n == 1 else f"xaxis{n}"
    axis_key_y = "yaxis" if n == 1 else f"yaxis{n}"
    layout[axis_key_x] = dict(domain=[PX(l), PX(r)], anchor=ya, range=list(p["xr"]),
                              tickvals=x_tick_vals, ticktext=x_tick_text, showgrid=False,
                              zeroline=False, showline=True, linecolor=AXIS, linewidth=1.3,
                              ticks="outside", ticklen=6, tickwidth=1.2, tickcolor=AXIS,
                              tickfont=dict(size=17.5, family=FONT, color="black"),
                              ticklabelstandoff=0)
    layout[axis_key_y] = dict(domain=[PY(b), PY(t)], anchor=xa, range=list(p["yr"]),
                              tickvals=p["yt"][0], ticktext=p["yt"][1], showgrid=True,
                              gridcolor=GRID, gridwidth=2, zeroline=False, showline=True,
                              linecolor=AXIS, linewidth=1.3, ticks="outside", ticklen=5,
                              tickwidth=1.2, tickcolor=AXIS, tickangle=-90,
                              tickfont=dict(size=18, family=FONT, color="black"),
                              ticklabelstandoff=6)

    cx = (l + r) / 2
    annotations += [
        dict(text=f"<b>{panel_labels[i]}</b>", x=PX(p["label_x"]), y=PY(16 + off), xref="paper", yref="paper",
             showarrow=False, xanchor="center", yanchor="middle",
             font=dict(family="Lato, Carlito, sans-serif", size=20, color="black")),
        dict(text=title_text, x=PX(p["title_x"]), y=PY(73 + off), xref="paper", yref="paper",
             showarrow=False, xanchor="center", yanchor="middle",
             font=dict(family=FONT, size=25.3, color="#1c3a5e")),
        dict(text=subtitles[i], x=PX(p["title_x"]), y=PY(102 + off), xref="paper", yref="paper",
             showarrow=False, xanchor="center", yanchor="middle",
             font=dict(family=FONT, size=20, color="black")),
        dict(text="growth rate", x=PX(cx), y=PY(448.5 + off), xref="paper", yref="paper",
             showarrow=False, xanchor="center", yanchor="middle",
             font=dict(family=FONT, size=18, color="black")),
        dict(text=notes[i][0], x=PX(p["note_x"]), y=PY(517 + off), xref="paper", yref="paper",
             showarrow=False, xanchor="left", yanchor="middle",
             font=dict(family=FONT, size=13.5, color="#222222")),
        dict(text=notes[i][1], x=PX(p["note_x"]), y=PY(532 + off), xref="paper", yref="paper",
             showarrow=False, xanchor="left", yanchor="middle",
             font=dict(family=FONT, size=13.5, color="#222222")),
    ]
    L = p["leg_x"]
    ly = 485 + off
    shapes.append(dict(type="rect", xref="paper", yref="paper", x0=PX(L), x1=PX(L + 536),
                       y0=PY(500 + off), y1=PY(468 + off), fillcolor="white",
                       line=dict(color="#222222", width=1.2)))
    shapes.append(dict(type="rect", xref="paper", yref="paper", x0=PX(L + 7.5), x1=PX(L + 11),
                       y0=PY(ly + 1.8), y1=PY(ly - 1.8), fillcolor=NAVY, line=dict(width=0)))
    shapes.append(dict(type="line", xref="paper", yref="paper", x0=PX(L + 353), x1=PX(L + 422),
                       y0=PY(ly), y1=PY(ly), line=dict(color=MAROON, width=2)))
    annotations += [
        dict(text=series_label, x=PX(L + 20), y=PY(ly), xref="paper", yref="paper",
             showarrow=False, xanchor="left", yanchor="middle",
             font=dict(family=FONT, size=18, color="black")),
        dict(text=fit_label, x=PX(L + 430), y=PY(ly), xref="paper", yref="paper",
             showarrow=False, xanchor="left", yanchor="middle",
             font=dict(family=FONT, size=18, color="black")),
    ]

layout["shapes"] = shapes
layout["annotations"] = annotations
fig.update_layout(**layout)
fig.write_html("out.html", config={"displayModeBar": False},
               post_script="document.body.style.margin='0';")
